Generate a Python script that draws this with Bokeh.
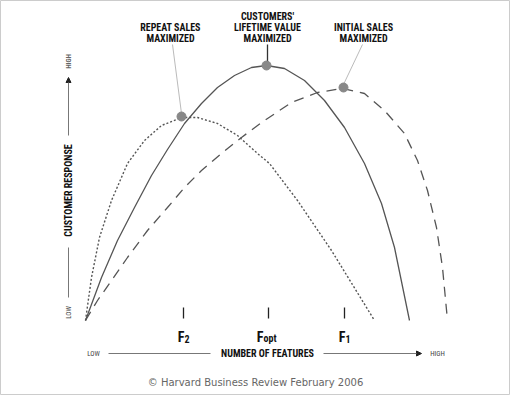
from bokeh.plotting import figure
from bokeh.models import Range1d, Label, Arrow, NormalHead, ColumnDataSource
from bokeh.core.properties import value
from bokeh.embed import file_html
from bokeh.resources import INLINE
import math

# ---- data (x: number of features, y: customer response; arbitrary units) ----
clv_x = [0, 16, 32, 49, 66, 82, 99, 116, 132, 149, 166, 181, 199, 219, 239, 259, 279, 296, 309, 324]
clv_y = [0, 43, 80, 113, 145, 171, 197, 217, 233, 245, 253, 255, 252, 240, 220, 193, 157, 117, 73, 0]

repeat_x = [0, 6, 14, 26, 42, 59, 76, 96, 112, 132, 152, 172, 184, 212, 229, 246, 289]
repeat_y = [0, 43, 83, 120, 157, 180, 195, 203, 203, 197, 185, 167, 157, 120, 95, 70, 0]

initial_x = [0, 12, 26, 42, 62, 82, 99, 116, 136, 156, 176, 206, 232, 257, 279, 299, 319, 332,
             342, 351, 357, 362]
initial_y = [0, 20, 40, 63, 90, 113, 133, 150, 167, 183, 198, 218, 228, 232, 227, 210, 187, 160,
             130, 93, 53, 0]

peak_x = [96, 181, 258]
peak_y = [204, 255, 233]

tick_x = [98, 183, 259]
tick_main = ["F", "F", "F"]
tick_sub = ["2", "opt", "1"]

COND = "Liberation Sans Narrow, Roboto Condensed, DejaVu Sans Condensed, Arial Narrow, sans-serif"

p = figure(width=510, height=395, output_backend="svg", toolbar_location=None,
           x_range=Range1d(-85, 425), y_range=Range1d(-75, 320),
           min_border=0, min_border_left=0, min_border_right=0,
           min_border_top=0, min_border_bottom=0)
p.xaxis.visible = False
p.yaxis.visible = False
p.grid.visible = False
p.outline_line_color = "#cccccc"
p.outline_line_width = 1
p.background_fill_color = "white"
p.border_fill_color = "white"

# curves
p.line(repeat_x, repeat_y, line_color="#555555", line_width=1.4, line_dash="2 2", line_join="round")
p.line(initial_x, initial_y, line_color="#555555", line_width=1.3, line_dash="10 7", line_join="round")
p.line(clv_x, clv_y, line_color="#555555", line_width=1.3, line_join="round")

# leader lines
p.segment(x0=[87, 277], y0=[276, 276], x1=[96, 258], y1=[207, 236], line_color="#bbbbbb", line_width=1)
p.segment(x0=[182], y0=[276], x1=[182], y1=[258], line_color="#333333", line_width=1.3)

p.scatter(peak_x, peak_y, size=9, fill_color="#888888", line_color="#888888")

# ticks and tick labels
p.segment(x0=tick_x, y0=[2]*3, x1=tick_x, y1=[13]*3, line_color="#222222", line_width=1.3)
offs = [1, -5, 1]
src = ColumnDataSource(dict(xm=[t + o for t, o in zip(tick_x, offs)], m=tick_main, s=tick_sub))
p.text(x="xm", y=-16, text="m", source=src, text_align="right", text_baseline="alphabetic",
       text_font=value(COND), text_font_style="bold", text_font_size="14px", text_color="#111111")
p.text(x="xm", y=-18, text="s", source=src, text_align="left", text_baseline="alphabetic",
       text_font=value(COND), text_font_style="bold", text_font_size="10px", text_color="#111111")

def lab(x, y, t, size="10px", color="#111111", bold=True, angle=0.0, font=COND):
    p.add_layout(Label(x=x, y=y, text=t, text_align="center", text_baseline="middle",
                       text_font=font, text_font_size=size, text_color=color,
                       text_font_style="bold" if bold else "normal", angle=angle))

# annotations
lab(85, 293, "REPEAT SALES")
lab(85, 282, "MAXIMIZED")
lab(182, 304, "CUSTOMERS'")
lab(182, 293, "LIFETIME VALUE")
lab(182, 282, "MAXIMIZED")
lab(278, 293, "INITIAL SALES")
lab(278, 282, "MAXIMIZED")

# y axis
lab(-17, 259, "HIGH", size="7px", color="#666666", angle=math.pi / 2)
lab(-17, 130, "CUSTOMER RESPONSE", size="10px", angle=math.pi / 2)
lab(-17, 8, "LOW", size="7px", color="#444444", bold=False, angle=math.pi / 2)
p.add_layout(Arrow(x_start=-17, y_start=185, x_end=-17, y_end=243, line_color="#777777", line_width=1,
                   end=NormalHead(size=5, fill_color="#222222", line_color="#222222")))
p.segment(x0=[-17], y0=[73], x1=[-17], y1=[23], line_color="#777777", line_width=1)

# x axis
lab(8, -33, "LOW", size="7px", color="#444444", bold=False)
lab(182, -33, "NUMBER OF FEATURES", size="10px")
lab(352, -33, "HIGH", size="7px", color="#444444", bold=False)
p.segment(x0=[23], y0=[-33], x1=[125], y1=[-33], line_color="#777777", line_width=1)
p.add_layout(Arrow(x_start=238, y_start=-33, x_end=336, y_end=-33, line_color="#777777", line_width=1,
                   end=NormalHead(size=5, fill_color="#222222", line_color="#222222")))

lab(170, -62, "\u00a9 Harvard Business Review February 2006", size="10px", color="#666666",
    bold=False, font="DejaVu Sans")

open("out.html", "w").write(file_html(p, INLINE))
